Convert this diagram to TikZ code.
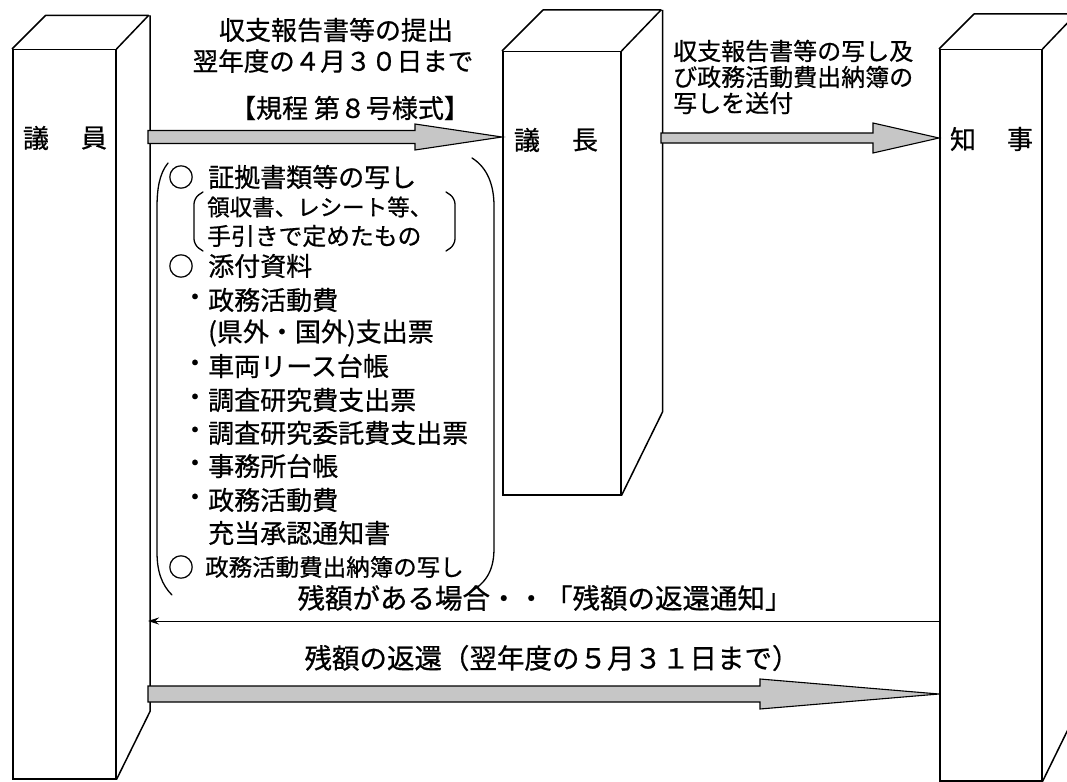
\documentclass[tikz,border=0pt]{standalone}
\usepackage{fontspec}
\newfontfamily\jp[FakeBold=0.7]{Noto Sans CJK JP}
\usetikzlibrary{arrows.meta}
\newcommand{\jfs}[1]{\jp\fontsize{#1}{#1}\selectfont}
\begin{document}
\begin{tikzpicture}[x=1pt,y=-1pt,
  face/.style={draw, line width=1.5pt, inner sep=0pt, anchor=north west},
  boxline/.style={line width=1.5pt, line join=round},
  fatarrow/.style={draw=black, line width=1.1pt, line join=miter, fill=gray!45},
  thinarrow/.style={line width=1pt, -{Stealth[length=11pt,width=7pt]}},
  paren/.style={line width=1.3pt, line cap=round},
  lbl/.style={font=\jfs{26}, inner sep=0pt},
  txt/.style={font=\jfs{26}, inner sep=0pt, anchor=west},
  smalltxt/.style={font=\jfs{23.5}, inner sep=0pt, anchor=west}
]
\useasboundingbox (0,0) rectangle (1067,781);
\clip (0,0) rectangle (1067,781);
\fill[white] (0,0) rectangle (1067,781);

% boxes (front faces)
\node[face, minimum width=103pt, minimum height=729pt] (b1) at (12,49) {};
\node[face, minimum width=118pt, minimum height=443pt] (b2) at (502,51) {};
\node[face, minimum width=102pt, minimum height=731pt] (b3) at (939,49) {};
% tops and sides
\draw[boxline] (b1.north west) -- ++(33.5,-33.5) -- ++(103,0) -- (b1.north east)
  (b1.north east) ++(33.5,-33.5) -- ++(0,696) -- (b1.south east);
\draw[boxline] (b2.north west) -- ++(41,-41) -- ++(118,0) -- (b2.north east)
  (b2.north east) ++(41,-41) -- ++(0,402) -- (b2.south east);
\draw[boxline] (b3.north west) -- ++(35,-35) -- ++(102,0) -- (b3.north east)
  (b3.north east) ++(35,-35) -- ++(0,696) -- (b3.south east);

% box labels
\node[lbl] (g1a) at (36,138) {議};
\node[lbl] (g1b) at (94,138) {員};
\node[lbl] (g2a) at (527,140) {議};
\node[lbl] (g2b) at (585,140) {長};
\node[lbl] (g3a) at (963,139) {知};
\node[lbl] (g3b) at (1020,139) {事};

% fat arrow 1 : giin -> gicho
\coordinate (a1s) at (148,137);
\coordinate (a1e) at (b2.west |- a1s);
\draw[fatarrow] (148,130.5) -- (415,130.5) -- (415,124) -- (a1e) -- (415,150) -- (415,143.5) -- (148,143.5) -- cycle;

% fat arrow 2 : gicho -> chiji
\coordinate (a2e) at (b3.west |- 0,138);
\draw[fatarrow] (661,133) -- (873,133) -- (873,123) -- (a2e) -- (873,153) -- (873,143) -- (661,143) -- cycle;

% thin arrow : chiji -> giin
\coordinate (a3s) at (b3.west |- 0,621);
\coordinate (a3e) at (148,621);
\draw[thinarrow] (a3s) -- (a3e);

% fat arrow 4 : giin -> chiji
\coordinate (a4e) at (b3.west |- 0,694);
\draw[fatarrow] (148,686) -- (760,686) -- (760,679) -- (a4e) -- (760,709) -- (760,702) -- (148,702) -- cycle;

% texts above arrow 1
\node[lbl] (t1) at (336,30) {収支報告書等の提出};
\node[font=\jfs{25.5}, inner sep=0pt] (t2) at (333,61) {翌年度の４月３０日まで};
\node[lbl] (t3) at (350,108) {【規程 第８号様式】};

% texts above arrow 2
\node[font=\jfs{24}, inner sep=0pt, anchor=west] (u1) at (673,51) {収支報告書等の写し及};
\node[font=\jfs{24}, inner sep=0pt, anchor=west] (u2) at (673,77) {び政務活動費出納簿の};
\node[font=\jfs{24}, inner sep=0pt, anchor=west] (u3) at (673,103) {写しを送付};

% list
\draw[paren] (168,163) .. controls (159,174) and (157,190) .. (157,208) -- (157,552) .. controls (157,572) and (162,585) .. (172,595);
\draw[paren] (472,158) .. controls (488,168) and (494,186) .. (494,206) -- (494,548) .. controls (494,568) and (488,582) .. (470,592);
\draw[paren, rounded corners=6pt] (203,192) -- (194,198) -- (194,245) -- (203,251);
\draw[paren, rounded corners=6pt] (446,192) -- (455,198) -- (455,245) -- (446,251);

\node[lbl] (c1) at (181,177) {○};
\node[txt] (l1) at (208,177) {証拠書類等の写し};
\node[font=\jfs{22.5}, inner sep=0pt, anchor=west] (l2) at (207,207) {領収書、レシート等、};
\node[font=\jfs{23.8}, inner sep=0pt, anchor=west] (l3) at (207,236) {手引きで定めたもの};
\node[lbl] (c2) at (181,266) {○};
\node[txt] (l4) at (208,266) {添付資料};
\node[lbl] (d1) at (195,300) {・};
\node[txt] (l5) at (208,300) {政務活動費};
\node[txt] (l6) at (208,333) {(県外・国外)支出票};
\node[lbl] (d2) at (195,366) {・};
\node[txt] (l7) at (208,366) {車両リース台帳};
\node[lbl] (d3) at (195,400) {・};
\node[txt] (l8) at (208,400) {調査研究費支出票};
\node[lbl] (d4) at (195,433) {・};
\node[txt] (l9) at (208,433) {調査研究委託費支出票};
\node[lbl] (d5) at (195,466) {・};
\node[txt] (l10) at (208,466) {事務所台帳};
\node[lbl] (d6) at (195,500) {・};
\node[txt] (l11) at (208,500) {政務活動費};
\node[txt] (l12) at (208,533) {充当承認通知書};
\node[lbl] (c3) at (181,567) {○};
\node[smalltxt] (l13) at (205,567) {政務活動費出納簿の写し};

% bottom texts
\node[font=\jfs{27.5}, inner sep=0pt] (v1) at (545,598) {残額がある場合・・「残額の返還通知」};
\node[font=\jfs{27.5}, inner sep=0pt] (v2) at (552,658) {残額の返還（翌年度の５月３１日まで）};
\end{tikzpicture}
\end{document}
